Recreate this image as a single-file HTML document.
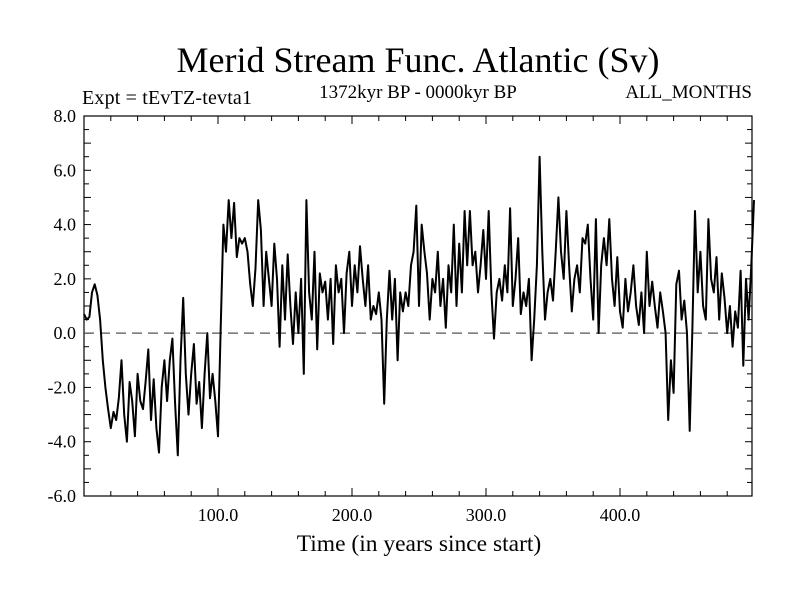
<!DOCTYPE html>
<html><head><meta charset="utf-8"><style>
html,body{margin:0;padding:0;background:#fff;}
svg text{font-family:"Liberation Serif",serif;fill:#000;}
</style></head><body>
<svg id="chart" width="800" height="600" viewBox="0 0 800 600" xmlns="http://www.w3.org/2000/svg">
<text x="418" y="72" font-size="36" text-anchor="middle">Merid Stream Func. Atlantic (Sv)</text>
<text x="82" y="104" font-size="20" textLength="170">Expt = tEvTZ-tevta1</text>
<text x="418" y="98" font-size="19" text-anchor="middle">1372kyr BP - 0000kyr BP</text>
<text x="752" y="98" font-size="19" text-anchor="end">ALL_MONTHS</text>
<text x="419" y="551" font-size="23.5" text-anchor="middle">Time (in years since start)</text>
<g id="axes"></g>
<g id="series"></g>
</svg>
<script>
const yTickValues=[-6,-4,-2,0,2,4,6,8];
const yTickLabels=["-6.0","-4.0","-2.0","0.0","2.0","4.0","6.0","8.0"];
const xTickValues=[100,200,300,400];
const xTickLabels=["100.0","200.0","300.0","400.0"];
const yearStep=2;
const msf=[0.7,0.5,0.6,1.5,1.8,1.4,0.5,
-1.0,-2.0,-2.8,-3.5,-2.9,
-3.2,-2.4,-1.0,-3.0,-4.0,
-1.8,-2.5,-3.8,-1.5,-2.5,
-2.8,-1.8,-0.6,-3.2,-1.7,
-3.5,-4.4,-2.0,-1.0,-2.5,
-1.0,-0.2,-2.6,-4.5,-1.0,
1.3,-1.5,-3.0,-1.5,-0.4,
-2.6,-1.8,-3.5,-1.5,0.0,
-2.4,-1.5,-2.5,-3.8,0.2,
4.0,3.0,4.9,3.5,4.8,
2.8,3.5,3.3,3.5,3.0,
1.8,1.0,2.4,4.9,3.8,
1.0,3.0,2.0,1.0,3.3,
2.0,-0.5,2.5,0.5,2.9,
1.0,-0.4,1.5,0.0,2.0,
-1.5,4.9,1.5,0.5,3.0,
-0.6,2.2,1.5,1.9,0.5,
2.0,-0.4,2.5,1.5,2.0,
0.0,2.2,3.0,1.0,2.5,
1.5,3.2,2.0,1.0,2.5,
0.5,1.0,0.7,1.5,0.5,
-2.6,0.5,2.3,0.5,2.0,
-1.0,1.5,0.8,1.5,1.0,
2.5,3.0,4.7,1.0,4.0,
3.0,2.2,0.5,2.0,1.5,
3.0,1.0,2.0,0.2,2.5,
1.5,4.0,1.0,3.3,1.5,
4.5,2.5,4.5,2.5,3.0,
1.5,2.5,3.8,2.0,4.5,
1.5,-0.2,1.5,2.0,1.2,
2.5,1.5,4.6,1.0,2.0,
3.5,0.7,1.5,1.0,2.0,
-1.0,0.5,2.5,6.5,3.0,
0.5,1.5,2.0,1.2,3.0,
5.0,3.0,2.0,4.5,2.5,
0.8,2.0,2.5,1.5,3.5,
3.3,4.0,2.0,0.5,4.2,
0.0,2.5,3.5,2.5,4.2,
2.0,1.0,2.8,0.8,0.2,
2.0,0.8,1.5,2.5,1.0,
0.3,1.5,0.0,3.0,1.0,
1.9,1.0,0.2,1.5,0.8,
0.0,-3.2,-1.0,-2.2,1.8,
2.3,0.5,1.2,0.0,-3.6,
0.2,4.5,1.5,3.0,1.0,
0.5,4.2,2.0,1.5,2.8,
0.5,2.2,1.3,0.0,1.0,
-0.5,0.8,0.2,2.3,-1.2,
2.0,0.5,2.5,4.9];
const L=84,R=752,T=116,B=496,X0=0,X1=498.5,Y0=-6,Y1=8;
const xs=v=>L+(v-X0)/(X1-X0)*(R-L);
const ys=v=>B-(v-Y0)/(Y1-Y0)*(B-T);
const NS="http://www.w3.org/2000/svg";
const ax=document.getElementById('axes'),sr=document.getElementById('series');
function mk(tag,at,parent){const e=document.createElementNS(NS,tag);for(const k in at)e.setAttribute(k,at[k]);parent.appendChild(e);return e;}
const frame=mk('rect',{x:L,y:T,width:R-L,height:B-T,fill:'none',stroke:'#000','stroke-width':1.2},ax);


for(let v=Y0;v<=Y1+1e-9;v+=0.5){const y=ys(v);const len=Math.abs(v-Math.round(v))<1e-9?7:5;
const t1=mk('line',{x1:L,y1:y,x2:L+len,y2:y,stroke:'#000'},ax);


const t2=mk('line',{x1:R,y1:y,x2:R-len,y2:y,stroke:'#000'},ax);

}
for(let v=20;v<X1;v+=20){const x=xs(v);const len=v%100===0?8:5;
const t1=mk('line',{x1:x,y1:B,x2:x,y2:B-len,stroke:'#000'},ax);


const t2=mk('line',{x1:x,y1:T,x2:x,y2:T+len,stroke:'#000'},ax);

}
yTickValues.forEach((v,i)=>{const t=mk('text',{x:L-8,y:ys(v)+6,'font-size':18,'text-anchor':'end'},ax);t.textContent=yTickLabels[i];

});
xTickValues.forEach((v,i)=>{const t=mk('text',{x:xs(v),y:B+25,'font-size':18,'text-anchor':'middle'},ax);t.textContent=xTickLabels[i];

});
const zl=mk('line',{x1:L,y1:ys(0),x2:R,y2:ys(0),stroke:'#555','stroke-width':1.3,'stroke-dasharray':'10,6'},ax);


const pts=msf.map((v,i)=>xs(i*yearStep).toFixed(1)+','+ys(v).toFixed(1)).join(' ');
const pl=mk('polyline',{points:pts,fill:'none',stroke:'#000','stroke-width':2,'stroke-linejoin':'round'},sr);


</script>
</body></html>
